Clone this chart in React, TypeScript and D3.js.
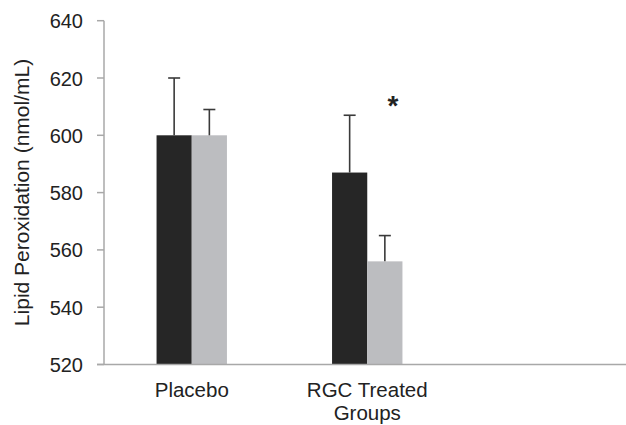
import React from "react";
import * as d3 from "d3";

const categories = ["Placebo", "RGC Treated Groups", ""];
const categoryLines = [["Placebo"], ["RGC Treated", "Groups"], []];
const series = ["Control", "Treated"];
const meansA = [600, 587];
const errA = [20, 20];
const meansB = [600, 556];
const errB = [9, 9];
const yTicks = [520, 540, 560, 580, 600, 620, 640];
const significant = [false, true];

const W = 626;
const H = 425;
const FONT = "'Liberation Sans', Arial, Helvetica, sans-serif";

export default function App() {
  const x = d3.scaleBand<string>().domain(categories).range([104, 630.5]).padding(0);
  const sub = d3.scaleBand<string>().domain(series).range([-35.2, 35.2]).padding(0);
  const y = d3.scaleLinear().domain([520, 640]).range([364.5, 20.7]);
  const colors = ["#262626", "#bcbdc0"];
  const data = [
    { means: meansA, errs: errA },
    { means: meansB, errs: errB },
  ];
  const axisColor = "#a8a8a8";
  const textColor = "#222";
  const cap = 6;

  return (
    <svg
      width={W}
      height={H}
      style={{ position: "fixed", left: 0, top: 0, background: "#fff" }}
      fontFamily={FONT}
    >
      <rect x={0} y={0} width={W} height={H} fill="#fff" />
      {/* bars */}
      {data.map((s, si) =>
        s.means.map((v, ci) => {
          const cx = (x(categories[ci]) as number) + x.bandwidth() / 2;
          const bx = cx + (sub(series[si]) as number);
          return (
            <rect
              key={`b${si}-${ci}`}
              x={bx}
              y={y(v)}
              width={sub.bandwidth()}
              height={y(520) - y(v)}
              fill={colors[si]}
            />
          );
        })
      )}
      {/* error bars */}
      {data.map((s, si) =>
        s.means.map((v, ci) => {
          const cx = (x(categories[ci]) as number) + x.bandwidth() / 2;
          const ex = cx + (sub(series[si]) as number) + sub.bandwidth() / 2;
          const top = y(v + s.errs[ci]);
          return (
            <g key={`e${si}-${ci}`} stroke="#3a3a3a" strokeWidth={1.6}>
              <line x1={ex} x2={ex} y1={y(v)} y2={top} />
              <line x1={ex - cap} x2={ex + cap} y1={top} y2={top} />
            </g>
          );
        })
      )}
      {/* significance */}
      {significant.map((sig, ci) => {
        if (!sig) return null;
        const cx = (x(categories[ci]) as number) + x.bandwidth() / 2;
        const gx = cx + (sub(series[1]) as number) + sub.bandwidth() / 2 + 8;
        return (
          <text
            key={`s${ci}`}
            x={gx}
            y={y(meansA[ci] + errA[ci]) - 0.5}
            textAnchor="middle"
            fontSize={28}
            fontWeight={600}
            fill={textColor}
          >
            *
          </text>
        );
      })}
      {/* y axis */}
      <line x1={104} x2={104} y1={y(640)} y2={y(520)} stroke={axisColor} strokeWidth={1.5} />
      {yTicks.map((t) => (
        <g key={t}>
          <line x1={97} x2={104} y1={y(t)} y2={y(t)} stroke={axisColor} strokeWidth={1.5} />
          <text x={83} y={y(t) + 7.5} textAnchor="end" fontSize={20} fill={textColor}>
            {t}
          </text>
        </g>
      ))}
      {/* x axis */}
      <line x1={97} x2={W} y1={y(520)} y2={y(520)} stroke={axisColor} strokeWidth={1.5} />
      {categoryLines.map((lines, ci) => {
        const cx = (x(categories[ci]) as number) + x.bandwidth() / 2;
        return lines.map((ln, li) => (
          <text key={`x${ci}-${li}`} x={cx} y={397 + li * 23} textAnchor="middle" fontSize={20.5} fill={textColor}>
            {ln}
          </text>
        ));
      })}
      {/* y title */}
      <text
        transform={`translate(29, 192.5) rotate(-90)`}
        textAnchor="middle"
        fontSize={21}
        fill={textColor}
      >
        Lipid Peroxidation (nmol/mL)
      </text>
    </svg>
  );
}
